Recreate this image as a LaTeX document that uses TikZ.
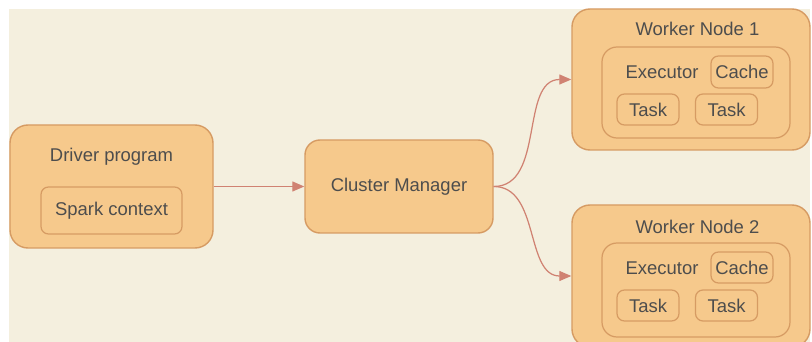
\documentclass[tikz,border=0pt]{standalone}
\usepackage{fontspec}
\setmainfont{Liberation Sans}
\usepackage{xcolor}
\usepackage{tikz}
\usetikzlibrary{arrows.meta,positioning}

\definecolor{cream}{HTML}{F4EFDE}
\definecolor{boxfill}{HTML}{F6C98C}
\definecolor{boxline}{HTML}{D69B63}
\definecolor{arrowline}{HTML}{D08272}
\definecolor{textgray}{HTML}{4D4D4D}

\tikzset{
  outerbox/.style={draw=boxline, fill=boxfill, line width=0.8pt, rounded corners=0.36cm},
  innerbox/.style={draw=boxline, fill=boxfill, line width=0.7pt, rounded corners=0.15cm},
  label/.style={text=textgray, font=\fontsize{10.5}{12}\selectfont, inner sep=0pt},
  link/.style={draw=arrowline, line width=0.7pt, -{Triangle[length=0.24cm, width=0.2cm]}}
}

\begin{document}
\begin{tikzpicture}
    \useasboundingbox (0,0) rectangle (16.24,6.84);
    \fill[white] (0,0) rectangle (16.24,6.84);
    \fill[cream] (0.18,0) rectangle (16.2,6.66);

    % driver
    \node[outerbox, minimum width=4.06cm, minimum height=2.46cm] (driver) at (2.23,3.11) {};
    \node[label] (drivertext) at (2.23,3.7) {Driver program};
    \node[innerbox, label, minimum width=2.82cm, minimum height=0.94cm] (spark) at (2.23,2.63) {Spark context};

    % cluster manager
    \node[outerbox, label, minimum width=3.76cm, minimum height=1.86cm, rounded corners=0.3cm] (cluster) at (7.98,3.11) {Cluster Manager};

    % worker 1
    \node[outerbox, minimum width=4.76cm, minimum height=2.82cm] (worker1) at (13.82,5.25) {};
    \node[label] (w1text) at (13.95,6.26) {Worker Node 1};
    \node[innerbox, minimum width=3.76cm, minimum height=1.82cm, rounded corners=0.3cm] (exec1) at (13.92,4.99) {};
    \node[label] (e1text) at (13.24,5.4) {Executor};
    \node[innerbox, label, minimum width=1.24cm, minimum height=0.64cm] (cache1) at (14.84,5.4) {Cache};
    \node[innerbox, label, minimum width=1.24cm, minimum height=0.62cm] (task1a) at (12.96,4.65) {Task};
    \node[innerbox, label, minimum width=1.24cm, minimum height=0.62cm] (task1b) at (14.53,4.65) {Task};

    % worker 2
    \node[outerbox, minimum width=4.76cm, minimum height=2.84cm] (worker2) at (13.82,1.32) {};
    \node[label] (w2text) at (13.95,2.3) {Worker Node 2};
    \node[innerbox, minimum width=3.76cm, minimum height=1.88cm, rounded corners=0.3cm] (exec2) at (13.92,1.04) {};
    \node[label] (e2text) at (13.24,1.48) {Executor};
    \node[innerbox, label, minimum width=1.24cm, minimum height=0.62cm] (cache2) at (14.84,1.49) {Cache};
    \node[innerbox, label, minimum width=1.24cm, minimum height=0.62cm] (task2a) at (12.96,0.73) {Task};
    \node[innerbox, label, minimum width=1.24cm, minimum height=0.62cm] (task2b) at (14.53,0.73) {Task};

    % links
    \draw[link] (driver.east) -- (cluster.west);
    \draw[link] (cluster.east) to[out=0, in=180] (worker1.west);
    \draw[link] (cluster.east) to[out=0, in=180] (worker2.west);
  \end{tikzpicture}
\end{document}
